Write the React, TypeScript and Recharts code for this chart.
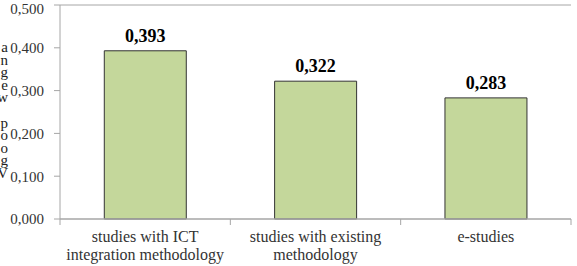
import React from 'react';
import { BarChart, Bar, XAxis, YAxis, LabelList, ReferenceLine } from 'recharts';

const categories = ['studies with ICT\nintegration methodology', 'studies with existing\nmethodology', 'e-studies'];
const values = [0.393, 0.322, 0.283];
const yTicks = [0, 0.1, 0.2, 0.3, 0.4, 0.5];
const yLabelChars = ['a', 'n', 'g', 'e', 'w', '', 'p', 'o', 'o', 'g', 'V'];

const data = categories.map((c, i) => ({ name: c, value: values[i] }));

const fmt = (v: number) => v.toFixed(3).replace('.', ',');
const FONT = "'Liberation Serif', 'Times New Roman', serif";
const AXIS = '#a6a6a6';

const XTick = (props: any) => {
  const { x, y, payload, index } = props;
  const lines = String(payload.value).split('\n');
  const half = payload.offset ?? 85;
  return (
    <g>
      <line x1={x - half} y1={y - 8} x2={x - half} y2={y - 2} stroke={AXIS} />
      {index === categories.length - 1 && (
        <line x1={x + half} y1={y - 8} x2={x + half} y2={y - 2} stroke={AXIS} />
      )}
      <text x={x} y={y} textAnchor="middle" style={{ fontFamily: FONT, fontSize: 16 }} fill="#333">
        {lines.map((l, i) => (
          <tspan key={i} x={x} dy={i === 0 ? 15 : 18}>{l}</tspan>
        ))}
      </text>
    </g>
  );
};

const YLabel = (props: any) => {
  const vb = props.viewBox || { x: 0, y: 0 };
  return (
    <text x={vb.x + 8} y={52} textAnchor="end" style={{ fontFamily: FONT, fontSize: 15 }} fill="#222">
      {yLabelChars.map((c, i) => (
        <tspan key={i} x={vb.x + 8} dy={i === 0 ? 0 : 12.6}>{c || '\u00a0'}</tspan>
      ))}
    </text>
  );
};

export default function App() {
  return (
    <div style={{ position: 'absolute', left: 0, top: 0, width: 577, height: 266, background: '#fff', fontFamily: FONT }}>
      <BarChart width={577} height={266} data={data} margin={{ top: 5, right: 6, left: 0, bottom: 0 }} barCategoryGap="26%">
        <XAxis
          dataKey="name"
          height={47}
          axisLine={{ stroke: AXIS, strokeWidth: 1.5 }}
          tickLine={false}
          tick={<XTick />}
          interval={0}
        />
        <YAxis
          domain={[0, 0.5]}
          ticks={yTicks}
          width={60}
          tickFormatter={fmt}
          axisLine={{ stroke: AXIS }}
          tickLine={{ stroke: AXIS }}
          tickSize={6}
          tickMargin={10}
          tick={{ style: { fontFamily: FONT, fontSize: 15 }, fill: '#333' }}
          label={{ content: <YLabel /> }}
        />
        <YAxis yAxisId="r" orientation="right" domain={[0, 0.5]} width={0} tick={false} tickLine={false} axisLine={{ stroke: AXIS }} />
        <ReferenceLine y={0.5} stroke={AXIS} />
        <Bar dataKey="value" fill="#c4d79b" stroke="#333" strokeWidth={1} isAnimationActive={false}>
          <LabelList dataKey="value" position="top" offset={9} formatter={(v: any) => fmt(Number(v))} style={{ fontFamily: FONT, fontSize: 18, fontWeight: 'bold', fill: '#000' }} />
        </Bar>
      </BarChart>
    </div>
  );
}
